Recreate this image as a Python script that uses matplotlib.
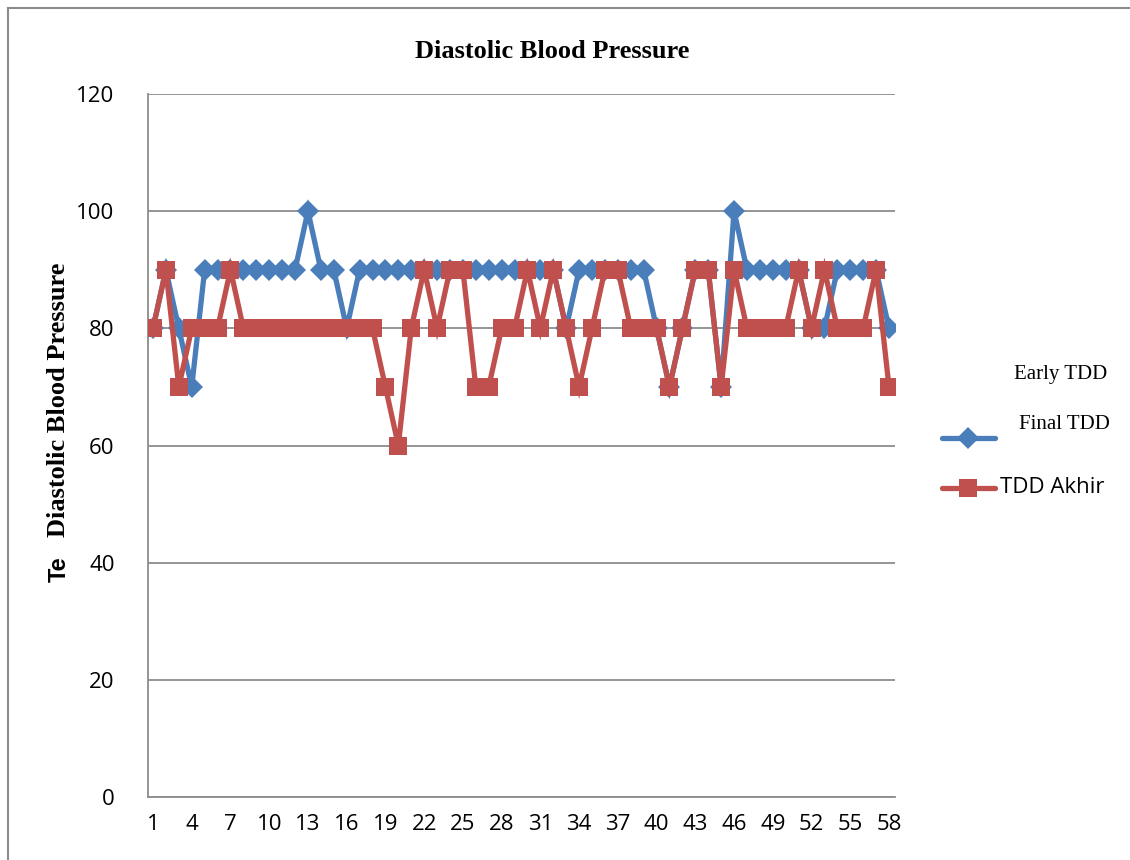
import matplotlib
matplotlib.use("Agg")
import matplotlib.pyplot as plt
from matplotlib.lines import Line2D

days = list(range(1, 59))
early_tdd = [80, 90, 80, 70, 90, 90, 90, 90, 90, 90,
             90, 90, 100, 90, 90, 80, 90, 90, 90, 90,
             90, 90, 90, 90, 90, 90, 90, 90, 90, 90,
             90, 90, 80, 90, 90, 90, 90, 90, 90, 80,
             70, 80, 90, 90, 70, 100, 90, 90, 90, 90,
             90, 80, 80, 90, 90, 90, 90, 80]
tdd_akhir = [80, 90, 70, 80, 80, 80, 90, 80, 80, 80,
             80, 80, 80, 80, 80, 80, 80, 80, 70, 60,
             80, 90, 80, 90, 90, 70, 70, 80, 80, 90,
             80, 90, 80, 70, 80, 90, 90, 80, 80, 80,
             70, 80, 90, 90, 70, 90, 80, 80, 80, 80,
             90, 80, 90, 80, 80, 80, 90, 70]
y_ticks = [0, 20, 40, 60, 80, 100, 120]
x_ticks = list(range(1, 59, 3))

BLUE = "#4A7EBB"
RED = "#C0504D"
GRID = "#8C8C8C"

fig = plt.figure(figsize=(11.3, 8.6), dpi=100)
W, H = 1130, 860
ax = fig.add_axes([148 / W, 1 - 797 / H, (895 - 148) / W, (797 - 94) / H])

ax.plot(days, early_tdd, color=BLUE, lw=3.8, marker="D", ms=11,
        markeredgewidth=0, solid_joinstyle="miter", zorder=3)
ax.plot(days, tdd_akhir, color=RED, lw=3.8, marker="s", ms=13.5,
        markeredgewidth=0, solid_joinstyle="miter", zorder=4)

ax.set_ylim(0, 120)
ax.set_xlim(1 - 5 / 12.912, 58 + 6 / 12.912)
ax.set_yticks(y_ticks)
ax.set_xticks(x_ticks)
ax.tick_params(length=0, labelsize=16)
for lab in ax.get_xticklabels() + ax.get_yticklabels():
    lab.set_fontfamily("Open Sans")
ax.tick_params(axis="y", pad=24)
ax.tick_params(axis="x", pad=12)
ax.yaxis.grid(True, color=GRID, lw=1.3)
ax.set_axisbelow(True)
for s in ["top", "right"]:
    ax.spines[s].set_visible(False)
for s in ["left", "bottom"]:
    ax.spines[s].set_color(GRID)
    ax.spines[s].set_linewidth(1.3)

# outer chart border
fig.add_artist(Line2D([8 / W, 1.0], [1 - 8 / H, 1 - 8 / H], color=GRID, lw=1.5))
fig.add_artist(Line2D([8 / W, 8 / W], [0, 1 - 8 / H], color=GRID, lw=1.5))

# title
fig.text(552 / W, 1 - 51 / H, "Diastolic Blood Pressure", ha="center", va="center",
         fontsize=19, fontweight="bold", family="Liberation Serif")

# y label
fig.text(59 / W, 1 - 400 / H, "Diastolic Blood Pressure", ha="center", va="center",
         rotation=90, fontsize=19, fontweight="bold", family="Liberation Serif")
fig.text(59 / W, 1 - 569 / H, "Te", ha="center", va="center",
         rotation=90, fontsize=17, fontweight="bold", family="Liberation Sans")

# legend
fig.text(1107 / W, 1 - 375 / H, "Early TDD", ha="right", va="center",
         fontsize=15, family="Liberation Serif")
fig.text(1110 / W, 1 - 424 / H, "Final TDD", ha="right", va="center",
         fontsize=15, family="Liberation Serif")
fig.add_artist(Line2D([942 / W, 995 / W], [1 - 438 / H, 1 - 438 / H], color=BLUE,
                      lw=3.8, solid_capstyle="round"))
fig.add_artist(Line2D([968 / W], [1 - 438 / H], color=BLUE, marker="D", ms=11,
                      markeredgewidth=0))
fig.add_artist(Line2D([942 / W, 995 / W], [1 - 488 / H, 1 - 488 / H], color=RED,
                      lw=3.8, solid_capstyle="round"))
fig.add_artist(Line2D([968 / W], [1 - 488 / H], color=RED, marker="s", ms=13.5,
                      markeredgewidth=0))
fig.text(1000 / W, 1 - 488 / H, "TDD Akhir", ha="left", va="center",
         fontsize=16, family="Open Sans")

fig.savefig("out.png", dpi=100)
